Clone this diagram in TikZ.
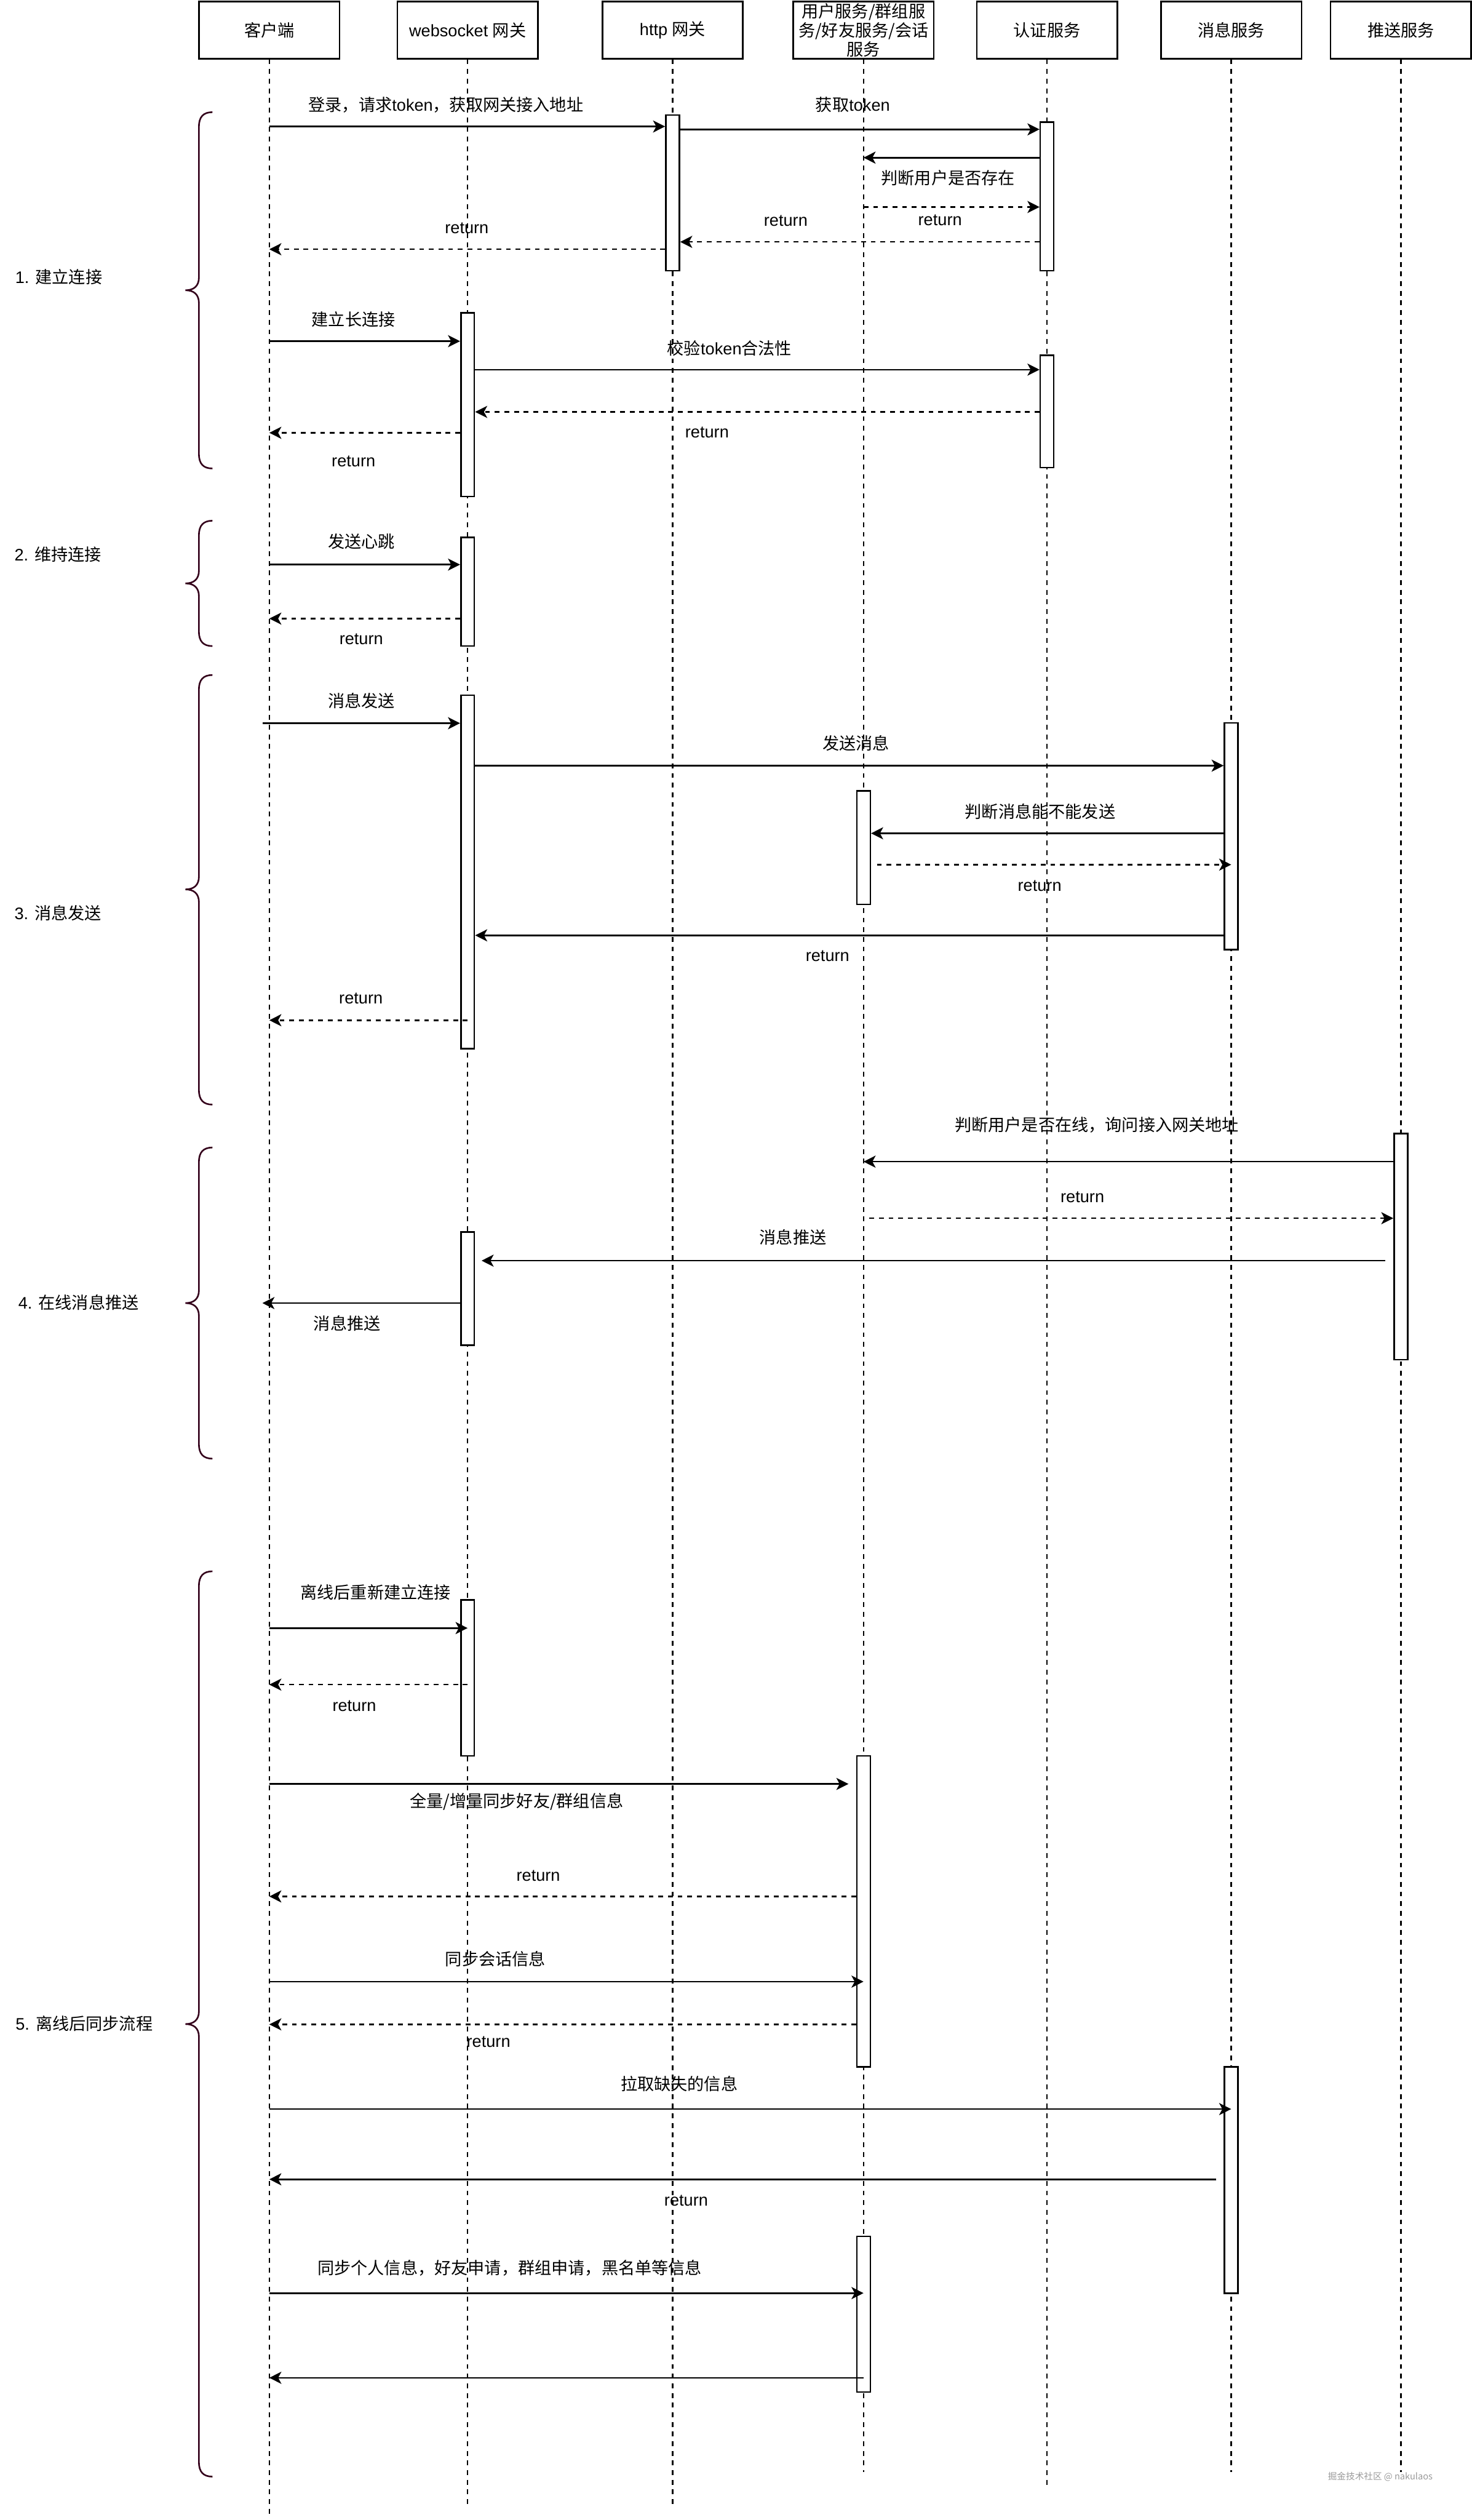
\documentclass[tikz,border=0pt]{standalone}
\usepackage{fontspec}
\setmainfont{Liberation Sans}
\newfontfamily\cjkfont{Noto Sans CJK SC}
\usetikzlibrary{arrows.meta}
\definecolor{bracecol}{HTML}{33001A}
\definecolor{wmgray}{HTML}{9A9A9A}
\newcommand\zh[1]{{\cjkfont #1}}
\newcommand\lblsize{\fontsize{10.4}{11.9}\selectfont}
\newcommand\secbrace[3]{%
  \draw[bracebrd] (132.2,#1) .. controls (126.5,#1) and (123.8,{#1+3}) .. (123.8,{#1+9})
    -- (123.8,{#2-8}) .. controls (123.8,{#2-2.5}) and (120.5,#2) .. (115.4,#2)
    .. controls (120.5,#2) and (123.8,{#2+2.5}) .. (123.8,{#2+8})
    -- (123.8,{#3-9}) .. controls (123.8,{#3-3}) and (126.5,#3) .. (132.2,#3);}
\begin{document}
\begin{tikzpicture}[x=1pt,y=-1pt,
  every node/.style={inner sep=0pt},
  header/.style={draw, line width=1pt, fill=white, minimum width=87.5pt, minimum height=35.5pt, font=\lblsize, align=center},
  life/.style={line width=1pt, dash pattern=on 3pt off 3pt},
  act/.style={draw, line width=1pt, fill=white, minimum width=8.4pt},
  msgarrow/.style={line width=1pt, -{Stealth[length=7.5pt,width=7.5pt,inset=2pt]}},
  retarrow/.style={msgarrow, dash pattern=on 3pt off 3pt},
  lbl/.style={font=\lblsize},
  sect/.style={font=\lblsize, anchor=west},
  bracebrd/.style={draw=bracecol, line width=1pt}]

\useasboundingbox (0,0) rectangle (916,1568);

% header boxes
\node[header] (client) at (167.6,18.75) {\zh{客户端}};
\node[header] (ws) at (291,18.75) {websocket \zh{网关}};
\node[header] (http) at (418.6,18.75) {http \zh{网关}};
\node[header, font=\cjkfont\lblsize] (user) at (537.4,18.75) {用户服务/群组服\\务/好友服务/会话\\服务};
\node[header] (auth) at (651.6,18.75) {\zh{认证服务}};
\node[header] (msgs) at (766.2,18.75) {\zh{消息服务}};
\node[header] (push) at (871.8,18.75) {\zh{推送服务}};

% lifelines
\coordinate (clientend) at (client |- 0,1564.7);
\coordinate (wsend) at (ws |- 0,1558.7);
\coordinate (httpend) at (http |- 0,1558.7);
\coordinate (userend) at (user |- 0,1538);
\coordinate (authend) at (auth |- 0,1548.8);
\coordinate (msgsend) at (msgs |- 0,1538);
\coordinate (pushend) at (push |- 0,1538);
\draw[life] (client.south) -- (clientend);
\draw[life] (ws.south) -- (wsend);
\draw[life] (http.south) -- (httpend);
\draw[life] (user.south) -- (userend);
\draw[life] (auth.south) -- (authend);
\draw[life] (msgs.south) -- (msgsend);
\draw[life] (push.south) -- (pushend);

% activation boxes
\node[act, minimum height=96.9pt] (A1) at (418.6,120.05) {};
\node[act, minimum height=92.6pt] (A2) at (651.6,122.2) {};
\node[act, minimum height=114.2pt] (A3) at (291,251.8) {};
\node[act, minimum height=70pt] (A4) at (651.6,256) {};
\node[act, minimum height=67.6pt] (A5) at (291,368.2) {};
\node[act, minimum height=220pt] (A6) at (291,542.5) {};
\node[act, minimum height=141.1pt] (A7) at (766.2,520.35) {};
\node[act, minimum height=70.7pt] (A8) at (537.4,527.35) {};
\node[act, minimum height=140.7pt] (A9) at (871.8,775.65) {};
\node[act, minimum height=70.5pt] (A10) at (291,801.85) {};
\node[act, minimum height=97.1pt] (A11) at (291,1043.95) {};
\node[act, minimum height=193.5pt] (A12) at (537.4,1189.25) {};
\node[act, minimum height=140.8pt] (A13) at (766.2,1356.4) {};
\node[act, minimum height=96.9pt] (A14) at (537.4,1439.95) {};

% free ends
\coordinate (m13s) at (163.4,450);
\coordinate (m16s) at (545.7,538);
\coordinate (m20s) at (541,758);
\coordinate (m21s) at (862,784.4);
\coordinate (m21e) at (299.7,784.4);
\coordinate (m22e) at (163.3,810.8);
\coordinate (m25e) at (528,1110);
\coordinate (m30s) at (757,1356);

% section 1
\draw[msgarrow] (client |- 0,78.7) -- (A1.west |- 0,78.7);
\draw[msgarrow] (A1.east |- 0,80.5) -- (A2.west |- 0,80.5);
\draw[msgarrow] (A2.west |- 0,98.1) -- (user |- 0,98.1);
\draw[retarrow] (user |- 0,128.8) -- (A2.west |- 0,128.8);
\draw[retarrow] (A2.west |- 0,150.5) -- (A1.east |- 0,150.5);
\draw[retarrow] (A1.west |- 0,155.1) -- (client |- 0,155.1);
\draw[msgarrow] (client |- 0,212.3) -- (A3.west |- 0,212.3);
\draw[msgarrow] (A3.east |- 0,230) -- (A4.west |- 0,230);
\draw[retarrow] (A4.west |- 0,256.3) -- (A3.east |- 0,256.3);
\draw[retarrow] (A3.west |- 0,269.3) -- (client |- 0,269.3);
% section 2
\draw[msgarrow] (client |- 0,351.3) -- (A5.west |- 0,351.3);
\draw[retarrow] (A5.west |- 0,384.9) -- (client |- 0,384.9);
% section 3
\draw[msgarrow] (m13s) -- (A6.west |- 0,450);
\draw[msgarrow] (A6.east |- 0,476.4) -- (A7.west |- 0,476.4);
\draw[msgarrow] (A7.west |- 0,518.5) -- (A8.east |- 0,518.5);
\draw[retarrow] (m16s) -- (msgs |- 0,538);
\draw[msgarrow] (A7.west |- 0,582) -- (A6.east |- 0,582);
\draw[retarrow] (ws |- 0,634.8) -- (client |- 0,634.8);
% section 4
\draw[msgarrow] (A9.west |- 0,722.8) -- (user |- 0,722.8);
\draw[retarrow] (m20s) -- (A9.west |- 0,758);
\draw[msgarrow] (m21s) -- (m21e);
\draw[msgarrow] (A10.west |- 0,810.8) -- (m22e);
% section 5
\draw[msgarrow] (client |- 0,1013) -- (ws |- 0,1013);
\draw[retarrow] (ws |- 0,1048.2) -- (client |- 0,1048.2);
\draw[msgarrow] (client |- 0,1110) -- (m25e);
\draw[retarrow] (A12.west |- 0,1180) -- (client |- 0,1180);
\draw[msgarrow] (client |- 0,1233) -- (user |- 0,1233);
\draw[retarrow] (A12.west |- 0,1259.6) -- (client |- 0,1259.6);
\draw[msgarrow] (client |- 0,1312.3) -- (msgs |- 0,1312.3);
\draw[msgarrow] (m30s) -- (client |- 0,1356);
\draw[msgarrow] (client |- 0,1426.8) -- (user |- 0,1426.8);
\draw[msgarrow] (user |- 0,1479.5) -- (client |- 0,1479.5);

% message labels
\node[lbl] (t1) at (277.5,65.4) {\zh{登录，请求}token\zh{，获取网关接入地址}};
\node[lbl] (t2) at (530.7,65.3) {\zh{获取}token};
\node[lbl] (t3) at (590,110.8) {\zh{判断用户是否存在}};
\node[lbl] (t4) at (585,136.9) {return};
\node[lbl] (t5) at (489,137.5) {return};
\node[lbl] (t6) at (290.5,142) {return};
\node[lbl] (t7) at (220,198.9) {\zh{建立长连接}};
\node[lbl] (t8) at (454,216.6) {\zh{校验}token\zh{合法性}};
\node[lbl] (t9) at (440,269) {return};
\node[lbl] (t10) at (220,286.9) {return};
\node[lbl] (t11) at (225,336.8) {\zh{发送心跳}};
\node[lbl] (t12) at (224.8,397.6) {return};
\node[lbl] (t13) at (225,436) {\zh{消息发送}};
\node[lbl] (t14) at (532.8,462.4) {\zh{发送消息}};
\node[lbl] (t15) at (647.3,504.8) {\zh{判断消息能不能发送}};
\node[lbl] (t16) at (647,551) {return};
\node[lbl] (t17) at (515,594.8) {return};
\node[lbl] (t18) at (224.6,621.3) {return};
\node[lbl] (t19) at (682.6,699.9) {\zh{判断用户是否在线，询问接入网关地址}};
\node[lbl] (t20) at (673.6,744.8) {return};
\node[lbl] (t21) at (493.5,770) {\zh{消息推送}};
\node[lbl] (t22) at (216,823.4) {\zh{消息推送}};
\node[lbl] (t23) at (233.8,990.6) {\zh{离线后重新建立连接}};
\node[lbl] (t24) at (220.5,1061.6) {return};
\node[lbl] (t25) at (321.5,1121) {\zh{全量/增量同步好友/群组信息}};
\node[lbl] (t26) at (335,1167) {return};
\node[lbl] (t27) at (308.3,1219) {\zh{同步会话信息}};
\node[lbl] (t28) at (304,1270.6) {return};
\node[lbl] (t29) at (422.7,1296.6) {\zh{拉取缺失的信息}};
\node[lbl] (t30) at (427,1369.3) {return};
\node[lbl] (t31) at (317.2,1411) {\zh{同步个人信息，好友申请，群组申请，黑名单等信息}};

% section braces and labels
\secbrace{69.8}{180.6}{291.5}
\secbrace{324}{363}{402}
\secbrace{420}{553.4}{687.3}
\secbrace{714}{810.8}{907.6}
\secbrace{977.7}{1259.4}{1541}
\node[sect] (s1) at (9.3,172.3) {1. \zh{建立连接}};
\node[sect] (s2) at (8.8,344.8) {2. \zh{维持连接}};
\node[sect] (s3) at (8.8,568) {3. \zh{消息发送}};
\node[sect] (s4) at (11.2,810.4) {4. \zh{在线消息推送}};
\node[sect] (s5) at (9.5,1259) {5. \zh{离线后同步流程}};

% watermark
\node[font=\cjkfont\fontsize{5.6}{6.5}\selectfont, text=wmgray] (wm) at (859,1541) {掘金技术社区 @ nakulaos};
\end{tikzpicture}
\end{document}
